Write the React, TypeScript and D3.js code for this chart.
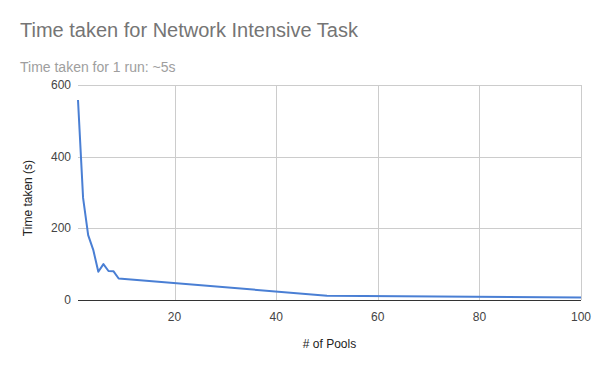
import * as d3 from 'd3';

const pools = [1, 2, 3, 4, 5, 6, 7, 8, 9, 50, 100];
const seconds = [558, 285, 181, 140, 79, 100, 81, 80, 60, 12, 7];
const xTicks = [20, 40, 60, 80, 100];
const yTicks = [0, 200, 400, 600];

const title = 'Time taken for Network Intensive Task';
const subtitle = 'Time taken for 1 run: ~5s';
const xLabel = '# of Pools';
const yLabel = 'Time taken (s)';

export default function App() {
  const width = 600;
  const height = 371;
  const marginLeft = 78;
  const marginRight = 19;
  const marginTop = 85;
  const marginBottom = 71;

  const x = d3.scaleLinear([1, 100], [marginLeft, width - marginRight]);
  const y = d3.scaleLinear([0, 600], [height - marginBottom, marginTop]);

  const line = d3
    .line<number>()
    .x((d, i) => x(pools[i]))
    .y((d) => y(d));

  const font = 'Arial, "Liberation Sans", sans-serif';

  return (
    <svg
      width={width}
      height={height}
      style={{ position: 'absolute', left: 0, top: 0, background: '#fff' }}
      fontFamily={font}
    >
      <rect width={width} height={height} fill='#fff' />
      <text x={20} y={37} fontSize={20} fill='#757575'>
        {title}
      </text>
      <text x={20} y={72} fontSize={14} fill='#9e9e9e'>
        {subtitle}
      </text>

      <g stroke='#cccccc' strokeWidth={1}>
        {yTicks
          .filter((t) => t !== 0)
          .map((t) => (
            <line
              key={t}
              x1={marginLeft}
              x2={width - marginRight}
              y1={Math.round(y(t)) + 0.5}
              y2={Math.round(y(t)) + 0.5}
            />
          ))}
        {xTicks.map((t) => (
          <line
            key={t}
            x1={Math.round(x(t)) + 0.5}
            x2={Math.round(x(t)) + 0.5}
            y1={marginTop}
            y2={height - marginBottom}
          />
        ))}
      </g>

      <g fontSize={12} fill='#444'>
        {yTicks.map((t) => (
          <text key={t} x={marginLeft - 7} y={y(t) + 4} textAnchor='end'>
            {t}
          </text>
        ))}
        {xTicks.map((t) => (
          <text key={t} x={x(t)} y={height - marginBottom + 21} textAnchor='middle'>
            {t}
          </text>
        ))}
      </g>

      <path
        d={line(seconds) ?? ''}
        fill='none'
        stroke='#4a7fd4'
        strokeWidth={2}
        strokeLinejoin='round'
      />

      <line
        x1={marginLeft}
        x2={width - marginRight}
        y1={Math.round(y(0)) + 0.5}
        y2={Math.round(y(0)) + 0.5}
        stroke='#333'
        strokeWidth={1}
      />

      <text
        x={(marginLeft + width - marginRight) / 2}
        y={348}
        fontSize={12}
        fill='#222'
        textAnchor='middle'
      >
        {xLabel}
      </text>
      <text
        transform={`translate(32,198) rotate(-90)`}
        fontSize={12}
        fill='#222'
        textAnchor='middle'
      >
        {yLabel}
      </text>
    </svg>
  );
}
